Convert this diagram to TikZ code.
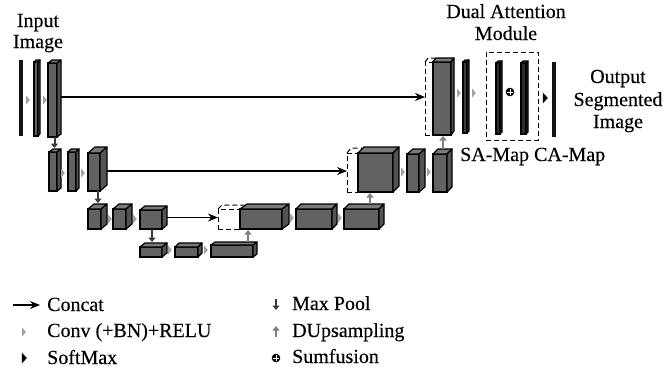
\documentclass[tikz,border=0pt]{standalone}
\usepackage{fontspec}
\setmainfont{Liberation Serif}[FakeBold=0.35]
\usetikzlibrary{arrows.meta}
\pgfdeclarelayer{background}
\pgfsetlayers{background,main}

\definecolor{boxgray}{HTML}{626262}
\definecolor{slabdark}{HTML}{3C3C3C}
\definecolor{mapdark}{HTML}{2E2E2E}
\definecolor{pooldark}{HTML}{3A3A3A}
\definecolor{upgray}{HTML}{808080}
\definecolor{convgray}{HTML}{A2A2A2}

\tikzset{
  frontface/.style={draw=black, line width=1.2pt, inner sep=0pt, outer sep=0pt},
  face/.style={draw=black, line width=1.2pt, line join=round},
  flatslab/.style={fill=black!92, draw=none, inner sep=0pt, outer sep=0pt, anchor=north west},
  placeholder/.style={draw=black, dash pattern=on 5pt off 3pt, line width=1pt, inner sep=0pt, outer sep=0pt},
  concat/.style={draw=black, line width=1.2pt, -{Stealth[length=10pt,width=8pt]}},
  pool/.style={draw=pooldark, line width=2pt, -{Triangle[length=4.5pt,width=7pt]}},
  upsamp/.style={draw=upgray, line width=2pt, -{Triangle[length=4.5pt,width=7pt]}},
  lbl/.style={font=\fontsize{20}{22}\selectfont, inner sep=0pt},
}

% 3-D block: name, x1, top, x2, bottom, depth dx, depth dy, colour
\newcommand\tdbox[8]{%
  \node[frontface, fill=#8, anchor=north west,
        minimum width={(#4-#2)*1pt}, minimum height={(#5-#3)*1pt}] (#1) at (#2,#3) {};
  \filldraw[face, fill=#8!85!white] (#1.north west) -- ++(#6,-#7)
     -- ([shift={(#6,-#7)}]#1.north east) -- (#1.north east) -- cycle;
  \filldraw[face, fill=#8!85!black] (#1.north east) -- ++(#6,-#7)
     -- ([shift={(#6,-#7)}]#1.south east) -- (#1.south east) -- cycle;
  \coordinate (#1-bt) at ([shift={(#6,-#7)}]#1.north);
}
% dashed copy placeholder: name, x1, top, x2, bottom, dx, dy
\newcommand\phbox[7]{%
  \node[placeholder, anchor=north west,
        minimum width={(#4-#2)*1pt}, minimum height={(#5-#3)*1pt}] (#1) at (#2,#3) {};
  \draw[placeholder] (#1.north west) -- ++(#6,-#7) -- ([shift={(#6,-#7)}]#1.north east);
}
\newcommand\convmark[2]{\fill[convgray] (#1-1.8,#2-4.5) -- (#1+1.8,#2) -- (#1-1.8,#2+4.5) -- cycle;}
\newcommand\softmark[2]{\fill[black] (#1-2.2,#2-5.5) -- (#1+2.8,#2) -- (#1-2.2,#2+5.5) -- cycle;}
\newcommand\sumfmark[2]{\fill[black] (#1,#2) circle[radius=4.3pt];
  \draw[white, line width=0.9pt] (#1-2.8,#2) -- (#1+2.8,#2) (#1,#2-2.8) -- (#1,#2+2.8);}

\begin{document}
\begin{tikzpicture}[x=1pt, y=-1pt]
\useasboundingbox (0,0) rectangle (665,373);

% ---------- titles ----------
\node[lbl, anchor=base] (tin1) at (38,27) {Input};
\node[lbl, anchor=base] (tin2) at (38,48) {Image};
\node[lbl, anchor=base] (tda1) at (506,18) {Dual Attention};
\node[lbl, anchor=base] (tda2) at (506,40) {Module};
\node[lbl, anchor=base] (tout1) at (618,83) {Output};
\node[lbl, anchor=base] (tout2) at (618,106) {Segmented};
\node[lbl, anchor=base] (tout3) at (618,128) {Image};
\node[lbl, anchor=base west] (tmap) at (460,161) {SA-Map CA-Map};

% ---------- encoder ----------
\node[flatslab, minimum width=4pt, minimum height=76pt] (e1a) at (19,60) {};
\tdbox{e1b}{34}{62}{38}{136}{2}{2}{boxgray}
\tdbox{e1c}{48}{63}{57}{137}{4}{3}{boxgray}
\convmark{28}{100}\convmark{45}{100}

\tdbox{e2a}{49}{152}{57}{191}{4}{3}{boxgray}
\tdbox{e2b}{68}{152}{76}{191}{3}{3}{boxgray}
\tdbox{e2c}{88}{153}{100}{191}{7}{6}{boxgray}
\convmark{63}{173}\convmark{83}{173}

\tdbox{e3a}{88}{209}{101}{229}{6}{5}{boxgray}
\tdbox{e3b}{113}{209}{126}{229}{6}{5}{boxgray}
\tdbox{e3c}{140}{210}{162}{229}{5}{4}{boxgray}
\convmark{110}{219}\convmark{135}{219}

\tdbox{e4a}{140}{247}{162}{257}{5}{4}{boxgray}
\tdbox{e4b}{175}{247}{198}{257}{4}{4}{boxgray}
\tdbox{e4c}{211}{245}{253}{257}{4}{3}{boxgray}
\convmark{170}{250}\convmark{206}{250}

% ---------- decoder ----------
\phbox{ph3}{218}{209}{240}{229}{4}{4}
\tdbox{d3a}{240}{209}{282}{229}{7}{5}{boxgray}
\tdbox{d3b}{296}{209}{332}{229}{5}{5}{boxgray}
\tdbox{d3c}{344}{209}{379}{229}{5}{5}{boxgray}
\convmark{292}{218}\convmark{340}{218}

\phbox{ph2}{347}{153}{358}{192}{4}{5}
\tdbox{d2a}{358}{153}{393}{192}{6}{6}{boxgray}
\tdbox{d2b}{407}{154}{419}{192}{6}{5}{boxgray}
\tdbox{d2c}{433}{154}{447}{192}{5}{5}{boxgray}
\convmark{403}{172}\convmark{429}{172}

\phbox{ph1}{425}{62}{433}{135}{3}{4}
\tdbox{d1a}{433}{62}{451}{135}{3}{4}{boxgray}
\tdbox{d1b}{463}{62}{467}{133}{2}{2}{slabdark}
\convmark{459}{93}\convmark{474}{93}

% ---------- dual attention module ----------
\node[placeholder, anchor=north west, minimum width=52pt, minimum height=88pt] (dam) at (486,52) {};
\tdbox{sa}{496}{63}{500}{134}{2}{2}{mapdark}
\tdbox{ca}{521}{63}{526}{134}{2}{2}{mapdark}
\sumfmark{510}{92}
\softmark{545}{98}
\node[flatslab, minimum width=4pt, minimum height=75pt] (outs) at (552,62) {};

% ---------- skip connections ----------
\begin{pgfonlayer}{background}
\draw[concat] ([yshift=3pt]e1c.east) -- ([yshift=3pt]e1c.east -| ph1.west);
\draw[concat] ([yshift=1pt]e2c.east) -- ([yshift=1pt]e2c.east -| ph2.west);
\draw[concat] ([yshift=2pt]e3c.east) -- ([yshift=2pt]e3c.east -| ph3.west);
\end{pgfonlayer}

% ---------- max pooling ----------
\draw[pool, shorten >=1pt] ([xshift=2pt]e1c.south) -- ([xshift=2pt]e1c.south |- e2a-bt);
\draw[pool, shorten >=1pt] ([xshift=4pt]e2c.south) -- ([xshift=4pt]e2c.south |- e3a-bt);
\draw[pool, shorten >=1pt] ([xshift=1pt]e3c.south) -- ([xshift=1pt]e3c.south |- e4a-bt);

% ---------- upsampling ----------
\draw[upsamp, shorten >=1pt] ([xshift=12pt]e4c-bt) -- ([xshift=12pt]e4c-bt |- d3a.south);
\draw[upsamp, shorten >=1pt] ([xshift=3.5pt]d3c-bt) -- ([xshift=3.5pt]d3c-bt |- d2a.south);
\draw[upsamp, shorten >=1pt] ([xshift=-2pt]d2c-bt) -- ([xshift=-2pt]d2c-bt |- d1a.south);

% ---------- legend ----------
\coordinate (lga) at (13,305);
\coordinate (lgb) at (40,305);
\draw[concat] (lga) -- (lgb);
\convmark{24}{332}
\softmark{24}{358}
\coordinate (lgc) at (276,299);
\coordinate (lgd) at (276,310);
\draw[pool, line width=1.8pt] (lgc) -- (lgd);
\coordinate (lge) at (276,337);
\coordinate (lgf) at (276,326);
\draw[upsamp, line width=1.8pt] (lge) -- (lgf);
\sumfmark{276}{358}

\node[lbl, anchor=base west] (lt1) at (47,311) {Concat};
\node[lbl, anchor=base west] (lt2) at (47,337) {Conv (+BN)+RELU};
\node[lbl, anchor=base west] (lt3) at (47,364) {SoftMax};
\node[lbl, anchor=base west] (lt4) at (292,310) {Max Pool};
\node[lbl, anchor=base west] (lt5) at (292,337) {DUpsampling};
\node[lbl, anchor=base west] (lt6) at (292,363) {Sumfusion};
\end{tikzpicture}
\end{document}
